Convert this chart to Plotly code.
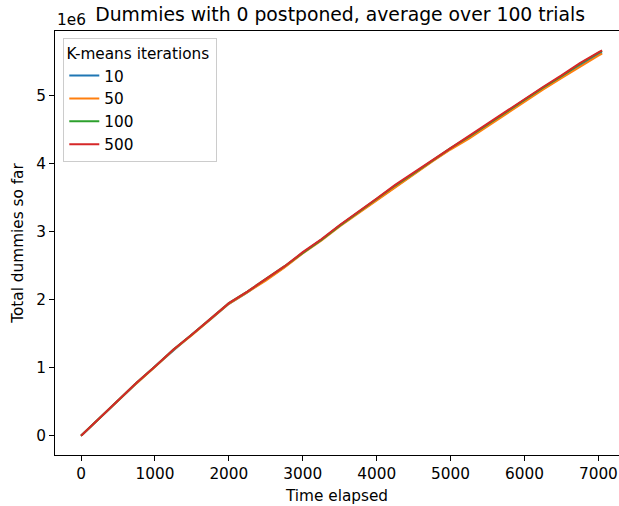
import plotly.graph_objects as go

# Time elapsed (x values)
time_elapsed = [0, 250, 500, 750, 1000, 1250, 1500, 1750, 2000, 2250, 2500, 2750, 3000,
                3250, 3500, 3750, 4000, 4250, 4500, 4750, 5000, 5250, 5500, 5750, 6000,
                6250, 6500, 6750, 7000, 7050]

# Total dummies so far, in millions (axis shows "1e6" multiplier)
dummies_10 = [0, 0.26, 0.52, 0.77, 1.02, 1.26, 1.49, 1.71, 1.94, 2.11, 2.29, 2.48, 2.69,
              2.88, 3.09, 3.28, 3.47, 3.67, 3.85, 4.04, 4.22, 4.39, 4.57, 4.75, 4.94,
              5.11, 5.28, 5.45, 5.61, 5.64]
dummies_50 = [0, 0.26, 0.52, 0.77, 1.01, 1.26, 1.48, 1.71, 1.94, 2.11, 2.28, 2.47, 2.68,
              2.87, 3.08, 3.27, 3.46, 3.66, 3.84, 4.03, 4.21, 4.37, 4.55, 4.73, 4.92,
              5.09, 5.26, 5.43, 5.59, 5.62]
dummies_100 = [0, 0.26, 0.52, 0.78, 1.02, 1.27, 1.49, 1.72, 1.95, 2.12, 2.30, 2.49, 2.69,
               2.88, 3.09, 3.29, 3.48, 3.68, 3.86, 4.05, 4.23, 4.40, 4.58, 4.76, 4.95,
               5.12, 5.29, 5.47, 5.63, 5.66]
dummies_500 = [0, 0.26, 0.52, 0.78, 1.02, 1.27, 1.49, 1.72, 1.95, 2.12, 2.30, 2.49, 2.70,
               2.89, 3.10, 3.29, 3.49, 3.69, 3.87, 4.06, 4.24, 4.41, 4.59, 4.77, 4.96,
               5.13, 5.30, 5.48, 5.64, 5.67]

series_labels = ["10", "50", "100", "500"]
series_values = [dummies_10, dummies_50, dummies_100, dummies_500]
series_colors = ["#1f77b4", "#ff7f0e", "#2ca02c", "#d62728"]

x_ticks = [0, 1000, 2000, 3000, 4000, 5000, 6000, 7000]
y_ticks = [0, 1, 2, 3, 4, 5]

FONT = "DejaVu Sans"
FS = 15.3
TFS = 18.8

fig = go.Figure()
for lab, vals, col in zip(series_labels, series_values, series_colors):
    fig.add_trace(go.Scatter(x=time_elapsed, y=vals, mode="lines", name=lab,
                             line=dict(color=col, width=2)))

W, H = 619, 506
ml, mt, mb, mr = 55, 31, 51, 0
fig.update_layout(
    width=W, height=H,
    margin=dict(l=ml, r=mr, t=mt, b=mb, pad=0, autoexpand=False),
    paper_bgcolor="white", plot_bgcolor="white",
    font=dict(family=FONT, size=FS, color="black"),
    title=dict(text="Dummies with 0 postponed, average over 100 trials",
               font=dict(size=TFS, family=FONT, color="black"),
               xref="paper", x=0.5056, xanchor="center",
               yref="container", y=1 - 14 / H, yanchor="middle"),
    xaxis=dict(range=[-352.5, 7279], tickvals=x_ticks, ticktext=[str(v) for v in x_ticks],
               showgrid=False, zeroline=False, showline=True, linecolor="black", linewidth=1,
               mirror=True, ticks="outside", ticklen=5, tickwidth=1, tickcolor="black",
               automargin=False,
               title=dict(text="Time elapsed", standoff=7, font=dict(size=FS)),
               tickfont=dict(size=FS)),
    yaxis=dict(range=[-0.2835, 5.9535], tickvals=y_ticks, ticktext=[str(v) for v in y_ticks],
               showgrid=False, zeroline=False, showline=True, linecolor="black", linewidth=1,
               ticks="outside", ticklen=5, tickwidth=1, tickcolor="black",
               automargin=False,
               title=dict(text="Total dummies so far", standoff=8, font=dict(size=FS)),
               tickfont=dict(size=FS)),
    legend=dict(x=0.0147, y=0.983, xanchor="left", yanchor="top",
                bgcolor="rgba(255,255,255,0.8)", bordercolor="#cccccc", borderwidth=1,
                title=dict(text="K-means iterations ", side="top center", font=dict(size=FS)),
                font=dict(size=FS), tracegroupgap=0, itemwidth=30),
    showlegend=True,
)
fig.add_annotation(text="1e6", xref="paper", yref="paper", x=0, y=1 + (31 - 20) / 423.7,
                   xanchor="left", yanchor="middle", showarrow=False,
                   font=dict(size=FS, family=FONT, color="black"))

fig.write_html("out.html", config={"displayModeBar": False},
               post_script="document.body.style.margin='0';document.body.style.padding='0';")
